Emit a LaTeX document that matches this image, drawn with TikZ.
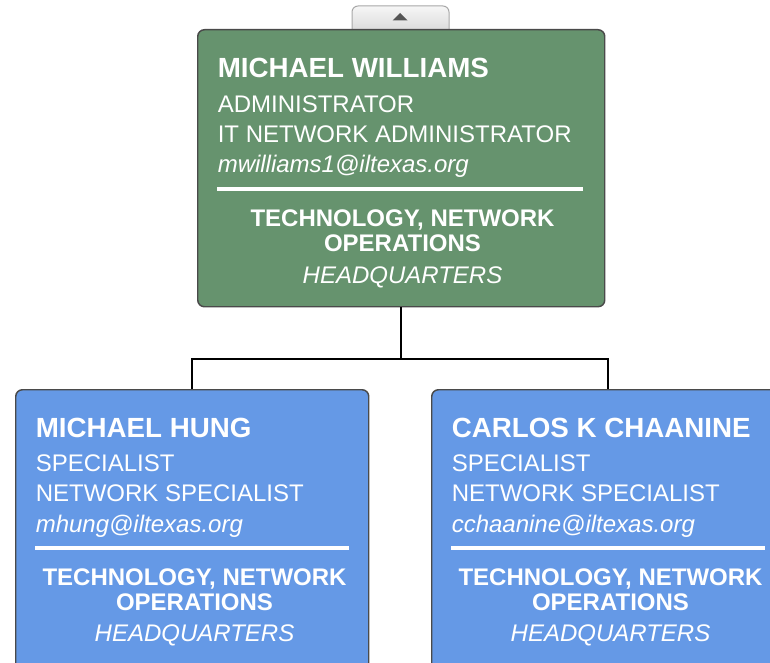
\documentclass[tikz,border=0pt]{standalone}
\usepackage{fontspec}
\setmainfont{Liberation Sans}
\definecolor{boxgreen}{HTML}{66936E}
\definecolor{boxblue}{HTML}{6599E6}
\definecolor{boxborder}{HTML}{4A4A4A}
\definecolor{tabtop}{HTML}{F6F6F6}
\definecolor{tabbot}{HTML}{DCDCDC}
\definecolor{tabborder}{HTML}{A8A8A8}
\definecolor{tabarrow}{HTML}{555555}
\begin{document}
\begin{tikzpicture}[x=0.75pt,y=-0.75pt,
  card/.style={draw=boxborder,line width=1.1pt,rounded corners=5pt,inner sep=0pt,anchor=north west},
  pname/.style={anchor=base west,inner sep=0pt,text=white,font=\fontsize{20.8}{24}\selectfont\bfseries},
  info/.style={anchor=base west,inner sep=0pt,text=white,font=\fontsize{18}{22}\selectfont},
  mail/.style={anchor=base west,inner sep=0pt,text=white,font=\fontsize{18}{22}\selectfont\itshape},
  dept/.style={anchor=base,inner sep=0pt,text=white,font=\fontsize{18}{22}\selectfont\bfseries},
  hq/.style={anchor=base,inner sep=0pt,text=white,font=\fontsize{18}{22}\selectfont\itshape},
  rulebar/.style={draw=white,line width=3pt},
  link/.style={draw=black,line width=1.5pt}]
\path[use as bounding box, clip] (0,0) rectangle (770,663);

% collapse tab
\draw[draw=tabborder, top color=tabtop, bottom color=tabbot, line width=0.75pt, rounded corners=4.5pt]
  (352,30) -- (352,6) -- (449,6) -- (449,30);
\fill[tabarrow] (392.5,20.5) -- (407.5,20.5) -- (400,13) -- cycle;

% cards
\node[card, fill=boxgreen, minimum width=305.25pt, minimum height=207.75pt] (top) at (197,29) {};
\node[card, fill=boxblue, minimum width=264.75pt, minimum height=217.5pt] (lft) at (15,389) {};
\node[card, fill=boxblue, minimum width=264.75pt, minimum height=217.5pt] (rgt) at (431,389) {};

% connectors
\path (top.south) ++(0,52) coordinate (j);
\draw[link] (top.south) -- (j);
\draw[link] (lft.north) |- (j) -| (rgt.north);

% top card text
\node[pname] (n1) at (217.5,77.5) {MICHAEL WILLIAMS};
\node[info] (r1) at (217.5,112.5) {ADMINISTRATOR};
\node[info] (p1) at (217.5,142.5) {IT NETWORK ADMINISTRATOR};
\node[mail] (e1) at (217.5,172.5) {mwilliams1@iltexas.org};
\draw[rulebar] (217,189) -- (583,189);
\node[dept] (d1a) at (402.5,226) {TECHNOLOGY, NETWORK};
\node[dept] (d1b) at (402.5,251) {OPERATIONS};
\node[hq] (h1) at (402.5,283) {HEADQUARTERS};

% left card text
\node[pname] (n2) at (35.5,437) {MICHAEL HUNG};
\node[info] (r2) at (35.5,471.7) {SPECIALIST};
\node[info] (p2) at (35.5,501.7) {NETWORK SPECIALIST};
\node[mail] (e2) at (35.5,532.7) {mhung@iltexas.org};
\draw[rulebar] (35,547.5) -- (349,547.5);
\node[dept] (d2a) at (194.5,585) {TECHNOLOGY, NETWORK};
\node[dept] (d2b) at (194.5,610) {OPERATIONS};
\node[hq] (h2) at (194.5,641.7) {HEADQUARTERS};

% right card text
\node[pname] (n3) at (451.5,437) {CARLOS K CHAANINE};
\node[info] (r3) at (451.5,471.7) {SPECIALIST};
\node[info] (p3) at (451.5,501.7) {NETWORK SPECIALIST};
\node[mail] (e3) at (451.5,532.7) {cchaanine@iltexas.org};
\draw[rulebar] (451,547.5) -- (765,547.5);
\node[dept] (d3a) at (610.5,585) {TECHNOLOGY, NETWORK};
\node[dept] (d3b) at (610.5,610) {OPERATIONS};
\node[hq] (h3) at (610.5,641.7) {HEADQUARTERS};
\end{tikzpicture}
\end{document}
